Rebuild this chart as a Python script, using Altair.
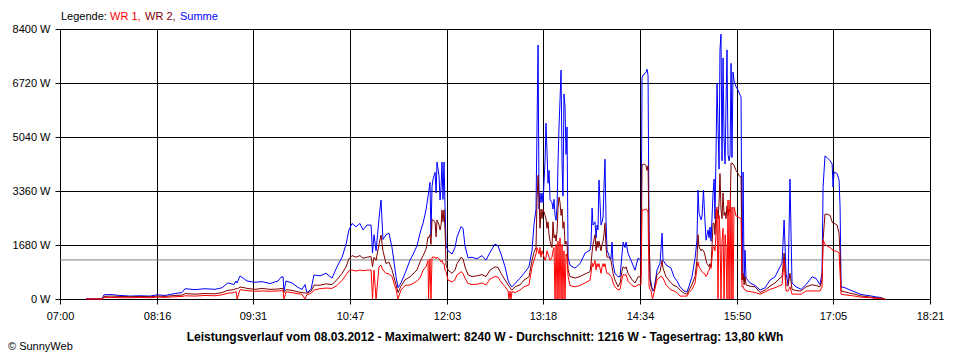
import altair as alt
import pandas as pd

# minutes after 07:00
minutes = [
    20.4, 32.9, 34.4, 39.1, 47.0, 54.8, 62.6, 70.5, 75.9, 82.2,
    90.0, 95.5, 97.9, 105.7, 113.5, 121.3, 126.8, 131.5, 136.2, 137.8,
    138.6, 140.9, 143.3, 146.4, 152.6, 158.1, 164.4, 170.7, 173.0, 174.6,
    175.3, 176.9, 181.6, 186.3, 189.4, 191.8, 193.3, 196.5, 198.8, 203.5,
    208.2, 212.9, 216.8, 220.8, 223.9, 226.2, 228.6, 231.7, 234.8, 237.2,
    240.3, 243.5, 244.6, 245.8, 247.4, 249.7, 251.3, 252.8, 255.2, 257.5,
    259.9, 263.0, 264.6, 266.9, 270.1, 274.0, 276.3, 279.4, 281.8, 284.2,
    286.5, 288.1, 288.5, 289.6, 290.4, 291.2, 292.0, 293.6, 294.4, 295.1,
    296.7, 297.5, 298.3, 299.0, 299.8, 300.6, 301.4, 302.2, 303.7, 306.9,
    309.2, 310.8, 313.9, 315.5, 317.0, 319.4, 322.5, 326.4, 330.3, 333.5,
    336.6, 340.5, 342.9, 345.2, 348.4, 350.7, 351.5, 352.3, 353.0, 353.8,
    356.2, 360.1, 363.2, 367.1, 369.5, 371.0, 372.6, 373.4, 374.2, 375.0,
    375.7, 376.5, 377.3, 378.1, 379.7, 380.4, 381.2, 382.0, 382.8, 383.6,
    385.1, 385.9, 386.7, 387.5, 388.3, 389.1, 389.8, 390.6, 391.4, 392.2,
    393.0, 393.7, 394.5, 395.3, 396.1, 396.9, 397.7, 399.2, 403.1, 407.1,
    411.0, 414.9, 415.7, 416.5, 417.2, 418.8, 419.6, 420.4, 421.1, 421.9,
    423.5, 424.3, 425.1, 425.8, 426.6, 427.4, 428.2, 429.8, 431.3, 432.1,
    432.9, 434.4, 436.8, 438.4, 440.0, 440.8, 442.3, 443.1, 444.6, 447.8,
    450.1, 452.5, 454.8, 455.6, 457.2, 458.7, 459.5, 460.3, 461.1, 461.9,
    462.6, 463.8, 465.0, 467.3, 469.7, 471.3, 472.0, 474.4, 478.3, 480.6,
    483.0, 485.3, 488.5, 490.8, 492.4, 494.7, 497.1, 498.6, 499.4, 500.2,
    501.8, 502.6, 503.7, 504.5, 505.7, 506.5, 507.3, 508.1, 508.8, 509.6,
    511.2, 512.0, 512.7, 513.5, 514.3, 515.1, 515.9, 516.6, 517.4, 518.2,
    519.0, 519.8, 520.6, 521.3, 522.1, 522.9, 523.7, 524.5, 525.3, 526.0,
    526.8, 527.6, 529.2, 530.7, 532.3, 533.1, 533.9, 534.7, 535.5, 536.2,
    537.0, 540.1, 544.1, 548.0, 551.9, 555.8, 559.7, 563.6, 565.2, 566.8,
    568.3, 569.9, 571.4, 573.0, 576.1, 580.1, 584.0, 588.7, 591.8, 594.9,
    596.5, 597.3, 598.8, 600.4, 602.8, 604.4, 605.1, 605.9, 608.3, 609.8,
    610.6, 611.4, 614.5, 618.4, 622.3, 626.2, 630.2, 634.1, 638.0, 641.9,
    645.8,
]

summe = [
    0, 0, 130, 140, 110, 90, 100, 90, 130, 110,
    170, 200, 320, 290, 320, 300, 350, 500, 450, 560,
    500, 715, 650, 560, 520, 540, 480, 560, 680, 690,
    250, 560, 500, 360, 300, 450, 200, 300, 750, 720,
    800, 650, 1000, 1300, 1700, 2150, 2350, 2250, 2350, 2150,
    2300, 2300, 1430, 2000, 1500, 2500, 3080, 1850, 2000, 2050,
    1600, 700, 350, 500, 800, 1210, 1380, 1650, 2050, 2360,
    2770, 3200, 3300, 3630, 1970, 3500, 3730, 3940, 3300, 4260,
    3830, 3080, 3500, 4260, 3100, 4260, 2850, 1660, 1500, 1400,
    1600, 1930, 2250, 2200, 1660, 1280, 1300, 1250, 1350, 1210,
    1450, 1710, 1650, 1400, 1000, 590, 500, 450, 400, 380,
    480, 650, 800, 1000, 1520, 2300, 2800, 5350, 7900, 2800,
    3300, 3000, 3300, 3000, 4320, 5470, 4600, 3600, 4000, 3100,
    3000, 2800, 3100, 2600, 2450, 2900, 4200, 5350, 6190, 7120,
    4200, 3200, 6380, 6000, 4500, 5350, 1300, 1050, 960, 1100,
    1430, 1520, 1770, 2830, 2300, 2400, 1900, 2300, 2150, 3700,
    2300, 2400, 2550, 3480, 4350, 2450, 1520, 1350, 1250, 1770,
    1100, 800, 690, 700, 1430, 1770, 1600, 1770, 1430, 1120,
    900, 1270, 1200, 6900, 7000, 7050, 7150, 6950, 1900, 680,
    500, 250, 290, 900, 1120, 2050, 1210, 1060, 960, 690,
    560, 380, 250, 220, 400, 690, 1270, 1835, 3390, 2670,
    2460, 2600, 3390, 2700, 1830, 2000, 2150, 1900, 2240, 1800,
    3300, 3730, 2500, 4500, 6720, 5350, 4040, 7750, 8240, 4300,
    7500, 5000, 4200, 6000, 7750, 4500, 4300, 4480, 7330, 4400,
    7060, 6800, 6600, 6500, 6350, 6280, 600, 3950, 600, 1520,
    650, 500, 420, 280, 350, 590, 690, 1000, 1120, 2460,
    800, 450, 3730, 500, 380, 300, 450, 690, 640, 450,
    800, 3480, 4450, 4400, 4300, 4200, 3480, 3950, 3900, 3700,
    2900, 380, 350, 280, 220, 150, 120, 100, 70, 50,
    0,
]

wr2 = [
    0, 0, 80, 90, 80, 70, 80, 70, 90, 80,
    110, 120, 170, 150, 170, 160, 200, 270, 290, 330,
    310, 370, 360, 330, 300, 330, 300, 310, 330, 320,
    200, 290, 270, 220, 200, 190, 180, 240, 430, 430,
    470, 450, 600, 800, 1000, 1250, 1350, 1300, 1350, 1270,
    1300, 1320, 1000, 1300, 1200, 1700, 1990, 1500, 1100, 1150,
    900, 450, 200, 400, 600, 690, 780, 900, 1150, 1350,
    1550, 1930, 1900, 2000, 1700, 2460, 2460, 2400, 1930, 2460,
    2300, 2150, 2300, 2770, 2400, 2770, 2150, 1050, 900, 800,
    900, 1100, 1300, 1250, 1000, 750, 700, 720, 760, 700,
    900, 1000, 980, 800, 590, 440, 400, 350, 300, 280,
    380, 440, 590, 690, 1200, 1450, 1600, 3080, 3850, 3100,
    2200, 2800, 2500, 2800, 2600, 2500, 2200, 2400, 2000, 1800,
    1600, 2400, 1900, 2000, 1800, 2100, 2800, 3170, 3000, 2600,
    2800, 2200, 2400, 1700, 1800, 1700, 900, 700, 650, 700,
    780, 850, 1100, 1460, 1700, 2000, 1500, 1800, 1600, 1800,
    1500, 1700, 1800, 2000, 2360, 1600, 1300, 1300, 1200, 1000,
    800, 600, 380, 500, 900, 1000, 950, 1000, 800, 600,
    500, 690, 690, 4170, 4200, 4150, 4000, 4150, 1900, 600,
    380, 300, 250, 760, 850, 1200, 960, 690, 500, 420,
    380, 280, 180, 150, 280, 450, 700, 1210, 2000, 1620,
    1500, 1550, 1500, 1430, 1200, 1100, 1050, 1000, 1100, 1000,
    2360, 2360, 2000, 2770, 2770, 2500, 3000, 3900, 2800, 2500,
    3300, 2600, 2700, 2500, 2900, 2600, 2800, 2700, 4230, 4230,
    4200, 4150, 4000, 3900, 3800, 3780, 590, 800, 440, 700,
    440, 400, 380, 200, 280, 400, 500, 650, 690, 1430,
    450, 400, 800, 300, 260, 250, 380, 440, 420, 380,
    600, 1835, 2640, 2640, 2600, 2400, 2360, 2360, 2300, 2050,
    1430, 250, 220, 180, 150, 100, 80, 60, 40, 30,
    0,
]

wr1 = [
    0, 0, 40, 50, 40, 40, 50, 40, 60, 50,
    70, 80, 100, 90, 110, 100, 130, 180, 200, 230,
    0, 290, 280, 260, 240, 250, 240, 250, 260, 250,
    0, 220, 200, 160, 150, 0, 140, 170, 280, 320,
    340, 330, 420, 580, 750, 880, 900, 870, 900, 880,
    900, 900, 0, 900, 0, 1000, 1050, 900, 800, 780,
    700, 300, 0, 280, 420, 440, 480, 560, 650, 900,
    1000, 1200, 0, 1250, 0, 1300, 1300, 1300, 1250, 1300,
    1250, 1200, 1150, 1200, 1100, 1100, 900, 850, 590, 530,
    600, 750, 850, 800, 650, 480, 450, 460, 500, 440,
    620, 700, 680, 530, 380, 250, 0, 250, 0, 230,
    200, 280, 380, 440, 1000, 1200, 1400, 1600, 1500, 1400,
    1600, 1300, 1500, 1400, 1200, 1300, 1500, 1400, 1300, 1200,
    1300, 1500, 1600, 0, 1700, 0, 1800, 0, 1900, 0,
    1700, 0, 1500, 0, 1400, 1300, 700, 420, 380, 420,
    500, 590, 800, 1120, 1000, 1200, 900, 1100, 1000, 1100,
    800, 1000, 1100, 1000, 1100, 900, 800, 780, 700, 650,
    500, 380, 280, 300, 650, 760, 740, 760, 550, 420,
    380, 440, 440, 2770, 2770, 2800, 2770, 2700, 380, 300,
    250, 0, 200, 590, 690, 690, 650, 440, 280, 250,
    200, 90, 90, 90, 200, 300, 500, 960, 1150, 1000,
    900, 850, 800, 800, 700, 750, 850, 900, 1000, 950,
    1620, 1620, 1500, 2000, 2860, 0, 2600, 2000, 0, 1800,
    2200, 0, 2000, 1600, 0, 3080, 0, 3080, 0, 2860,
    0, 2860, 2580, 2560, 2520, 2500, 380, 400, 300, 300,
    250, 230, 200, 150, 220, 300, 350, 420, 440, 1210,
    250, 250, 380, 150, 150, 150, 250, 250, 250, 250,
    380, 1835, 1700, 1650, 1600, 1550, 1500, 1500, 1480, 1430,
    800, 150, 130, 110, 90, 60, 50, 40, 20, 10,
    0,
]

x_tick_minutes = [0, 76, 151, 227, 303, 378, 454, 530, 605, 681]
y_ticks = [0, 1680, 3360, 5040, 6720, 8400]
average_w = [1216]

legend_parts = ["Legende:", "WR 1,", "WR 2,", "Summe"]
legend_colors = ["#000000", "#FF0000", "#800000", "#0000FF"]
title_text = ("Leistungsverlauf vom 08.03.2012 - Maximalwert: 8240 W - "
              "Durchschnitt: 1216 W - Tagesertrag: 13,80 kWh")
credit_text = "© SunnyWeb"

FONT = "Liberation Sans"

wide = pd.DataFrame({"t": minutes, "Summe": summe, "WR 2": wr2, "WR 1": wr1})
long = wide.melt(id_vars="t", var_name="series", value_name="value")

X = alt.X(
    "t:Q",
    scale=alt.Scale(domain=[0, 681], nice=False, zero=False),
    axis=alt.Axis(
        values=x_tick_minutes,
        labelExpr="format(floor(datum.value / 60) + 7, '02d') + ':' + format(datum.value % 60, '02d')",
        title=None, grid=True, gridColor="#000000", gridOpacity=1, gridWidth=1,
        domainColor="#000000", domainWidth=1, tickColor="#000000", tickSize=5, tickWidth=1,
        labelPadding=6, labelFont=FONT, labelFontSize=11, labelColor="#000000",
        labelFlush=False, labelOverlap=False,
    ),
)
Y = alt.Y(
    "value:Q",
    scale=alt.Scale(domain=[0, 8400], nice=False, zero=True),
    axis=alt.Axis(
        values=y_ticks,
        labelExpr="datum.value + ' W'",
        title=None, grid=True, gridColor="#000000", gridOpacity=1, gridWidth=1,
        domainColor="#000000", domainWidth=1, tickColor="#000000", tickSize=5, tickWidth=1,
        labelPadding=5, labelFont=FONT, labelFontSize=11, labelColor="#000000",
        labelFlush=False, labelOverlap=False,
    ),
)


def series_layer(name, color):
    return (
        alt.Chart(long)
        .transform_filter(alt.datum.series == name)
        .mark_line(color=color, strokeWidth=1)
        .encode(x=X, y=Y)
    )


avg_layer = (
    alt.Chart(pd.DataFrame({"value": average_w}))
    .mark_rule(color="#808080", strokeWidth=1)
    .encode(y=Y)
)


def text_layer(text, color, x, y, size=11, bold=False, align="left"):
    return (
        alt.Chart(pd.DataFrame({"label": [text]}))
        .mark_text(align=align, baseline="alphabetic", font=FONT, fontSize=size,
                   fontWeight="bold" if bold else "normal", color=color)
        .encode(x=alt.value(x), y=alt.value(y), text="label:N")
    )


legend_x = [1, 50, 85, 120]
texts = [text_layer(p, c, lx, -9) for p, c, lx in zip(legend_parts, legend_colors, legend_x)]
texts.append(text_layer(title_text, "#000000", 425, 312, size=12, bold=True, align="center"))
texts.append(text_layer(credit_text, "#000000", -52, 321, size=11))

chart = (
    alt.layer(
        avg_layer,
        series_layer("Summe", "#0000FF"),
        series_layer("WR 2", "#800000"),
        series_layer("WR 1", "#FF0000"),
        *texts,
    )
    .properties(
        width=870,
        height=270,
        autosize=alt.AutoSizeParams(type="none"),
        padding={"left": 52, "top": 21, "right": 18, "bottom": 53},
        background="#FFFFFF",
    )
    .configure_view(stroke=None)
)

chart.save("out.html", embed_options={"renderer": "svg", "actions": False})
